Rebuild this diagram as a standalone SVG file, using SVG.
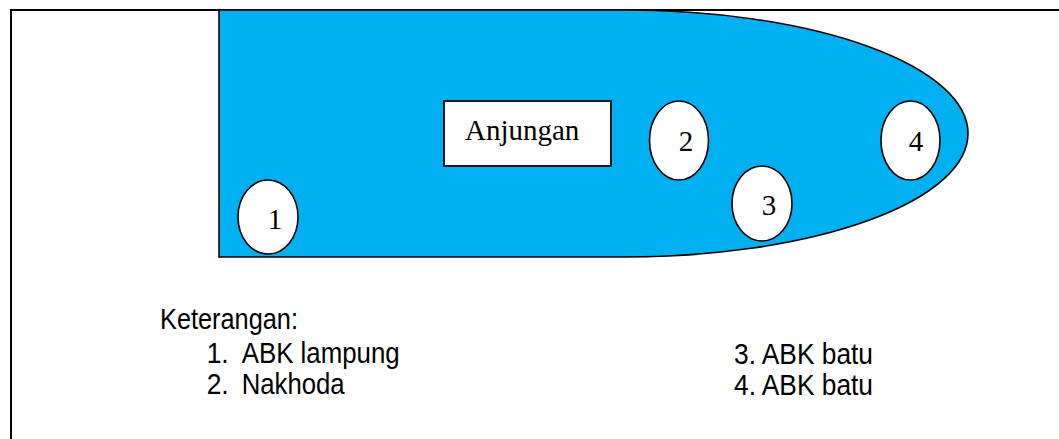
<svg xmlns="http://www.w3.org/2000/svg" width="1059" height="439" viewBox="0 0 1059 439">
<style>
.seat{fill:#ffffff;stroke:#000000;stroke-width:1.6}
.num{font-family:"Liberation Serif","Times New Roman",serif;font-size:29px;fill:#000000;text-anchor:middle}
.leg{font-family:"Liberation Sans",Arial,sans-serif;font-size:29.5px;fill:#000000}
</style>
<rect x="0" y="0" width="1059" height="439" fill="#ffffff"/>
<g id="frame">
<rect x="11" y="10" width="1100" height="500" fill="none" stroke="#000000" stroke-width="2"/>
</g>
<g id="ship">
<path d="M219,10 H625 A343,123.5 0 0 1 625,257 H219 Z" fill="#00B0F0" stroke="#000000" stroke-width="1.6"/>
</g>
<g id="anjungan">
<rect x="444" y="101" width="167" height="65" fill="#ffffff" stroke="#000000" stroke-width="1.8"/>
<text x="465" y="140" font-family="Liberation Serif,'Times New Roman',serif" font-size="29" fill="#000000">Anjungan</text>
</g>
<g id="seat1">
<ellipse class="seat" cx="268" cy="217" rx="30" ry="37"/>
<text class="num" x="275" y="229">1</text>
</g>
<g id="seat2">
<ellipse class="seat" cx="679" cy="140.5" rx="29.5" ry="39.5"/>
<text class="num" x="686" y="151">2</text>
</g>
<g id="seat3">
<ellipse class="seat" cx="762" cy="203.5" rx="30" ry="37.5"/>
<text class="num" x="769" y="215">3</text>
</g>
<g id="seat4">
<ellipse class="seat" cx="910.5" cy="140.5" rx="29.5" ry="39.5"/>
<text class="num" x="916" y="151">4</text>
</g>
<g id="connectors"></g>
<g id="legend">
<text class="leg" x="160" y="329" textLength="138" lengthAdjust="spacingAndGlyphs">Keterangan:</text>
<text class="leg" x="206.7" y="363" textLength="22" lengthAdjust="spacingAndGlyphs">1.</text>
<text class="leg" x="241.7" y="363" textLength="158" lengthAdjust="spacingAndGlyphs">ABK lampung</text>
<text class="leg" x="206.7" y="394" textLength="22" lengthAdjust="spacingAndGlyphs">2.</text>
<text class="leg" x="241.7" y="394" textLength="103" lengthAdjust="spacingAndGlyphs">Nakhoda</text>
<text class="leg" x="734" y="364" textLength="139" lengthAdjust="spacingAndGlyphs">3. ABK batu</text>
<text class="leg" x="734" y="395" textLength="139" lengthAdjust="spacingAndGlyphs">4. ABK batu</text>
</g>
</svg>
